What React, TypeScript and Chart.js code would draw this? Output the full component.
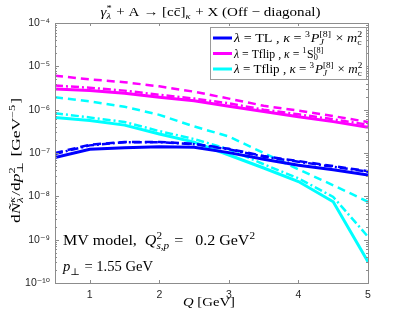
import React, { useEffect, useRef } from 'react';
import Chart from 'chart.js/auto';

const Q = [0.5, 1, 1.5, 2, 2.5, 3, 3.5, 4, 4.5, 5];
const tlSolid = [7.9e-8, 1.22e-7, 1.33e-7, 1.4e-7, 1.35e-7, 1.02e-7, 7.2e-8, 5.2e-8, 4.1e-8, 3.1e-8];
const tlDashed = [1.0e-7, 1.55e-7, 1.8e-7, 1.8e-7, 1.62e-7, 1.25e-7, 8.5e-8, 6.5e-8, 5.0e-8, 3.8e-8];
const tlDashDot = [9.5e-8, 1.5e-7, 1.78e-7, 1.78e-7, 1.6e-7, 1.22e-7, 8.2e-8, 6.3e-8, 4.8e-8, 3.7e-8];
const s0Solid = [3.0e-6, 2.77e-6, 2.4e-6, 1.94e-6, 1.6e-6, 1.2e-6, 9.1e-7, 6.9e-7, 5.3e-7, 3.9e-7];
const s0Dashed = [6.1e-6, 5.0e-6, 4.3e-6, 3.45e-6, 2.6e-6, 1.8e-6, 1.23e-6, 9.5e-7, 7.1e-7, 5.2e-7];
const s0DashDot = [3.6e-6, 3.2e-6, 2.75e-6, 2.2e-6, 1.8e-6, 1.4e-6, 1.0e-6, 7.8e-7, 6.0e-7, 4.5e-7];
const pjSolid = [6.6e-7, 5.6e-7, 4.4e-7, 2.75e-7, 1.78e-7, 9e-8, 4.5e-8, 2.2e-8, 7.5e-9, 3.1e-10];
const pjDashed = [1.94e-6, 1.55e-6, 1.17e-6, 7.6e-7, 4.1e-7, 2.4e-7, 1.0e-7, 4.2e-8, 1.8e-8, 7.5e-9];
const pjDashDot = [8.3e-7, 6.6e-7, 5.2e-7, 3.2e-7, 2.1e-7, 1.22e-7, 5.5e-8, 2.6e-8, 9.7e-9, 1.17e-9];
const xTicks = [1, 2, 3, 4, 5];
const yExponents = [-10, -9, -8, -7, -6, -5, -4];

const BLUE = '#0000ff';
const MAGENTA = '#ff00ff';
const CYAN = '#00ffff';
const SERIF = '"Liberation Serif", "DejaVu Serif", serif';
const SANS = '"Liberation Sans", "DejaVu Sans", sans-serif';

type Part = { t?: string; it?: boolean; sup?: string; sub?: string; supIt?: boolean; subIt?: boolean };

const fontStr = (size: number, it: boolean | undefined, fam: string) => `${it ? 'italic ' : ''}${size}px ${fam}`;

function measureParts(ctx: CanvasRenderingContext2D, parts: Part[], size: number, fam: string) {
  let w = 0;
  for (const p of parts) {
    if (p.t !== undefined) {
      ctx.font = fontStr(size, p.it, fam);
      w += ctx.measureText(p.t).width;
    } else {
      const s = size * 0.7;
      let a = 0, b = 0;
      if (p.sup) { ctx.font = fontStr(s, p.supIt, fam); a = ctx.measureText(p.sup).width; }
      if (p.sub) { ctx.font = fontStr(s, p.subIt, fam); b = ctx.measureText(p.sub).width; }
      w += Math.max(a, b) + size * 0.06;
    }
  }
  return w;
}

function drawParts(
  ctx: CanvasRenderingContext2D, parts: Part[], x: number, y: number, size: number, fam: string,
  align: 'left' | 'center' | 'right' = 'left', targetW?: number,
) {
  const w = measureParts(ctx, parts, size, fam);
  const W = targetW ?? w;
  const sx = W / w;
  const start = align === 'center' ? x - W / 2 : align === 'right' ? x - W : x;
  ctx.save();
  ctx.translate(start, y);
  ctx.scale(sx, 1);
  ctx.textAlign = 'left';
  ctx.textBaseline = 'alphabetic';
  let cx = 0;
  for (const p of parts) {
    if (p.t !== undefined) {
      ctx.font = fontStr(size, p.it, fam);
      ctx.fillText(p.t, cx, 0);
      cx += ctx.measureText(p.t).width;
    } else {
      const s = size * 0.7;
      let a = 0, b = 0;
      if (p.sup) {
        ctx.font = fontStr(s, p.supIt, fam);
        ctx.fillText(p.sup, cx, -size * 0.42);
        a = ctx.measureText(p.sup).width;
      }
      if (p.sub) {
        ctx.font = fontStr(s, p.subIt, fam);
        ctx.fillText(p.sub, cx, size * 0.25);
        b = ctx.measureText(p.sub).width;
      }
      cx += Math.max(a, b) + size * 0.06;
    }
  }
  ctx.restore();
}

const titleParts: Part[] = [
  { t: 'γ', it: true }, { sup: '*', sub: 'λ', subIt: true },
  { t: ' + A → [cc̄]' }, { sub: 'κ', subIt: true }, { t: ' + X (Off − diagonal)' },
];
const legendRows: { color: string; parts: Part[]; w: number }[] = [
  { color: BLUE, w: 129, parts: [{ t: 'λ', it: true }, { t: ' = TL , ' }, { t: 'κ', it: true }, { t: ' = ' }, { sup: '3' }, { t: 'P', it: true }, { sup: '[8]', sub: 'J', subIt: true }, { t: ' × ' }, { t: 'm', it: true }, { sup: '2', sub: 'c' }] },
  { color: MAGENTA, w: 90, parts: [{ t: 'λ', it: true }, { t: ' = Tflip , ' }, { t: 'κ', it: true }, { t: ' = ' }, { sup: '1' }, { t: 'S' }, { sup: '[8]', sub: '0' }] },
  { color: CYAN, w: 129, parts: [{ t: 'λ', it: true }, { t: ' = Tflip , ' }, { t: 'κ', it: true }, { t: ' = ' }, { sup: '3' }, { t: 'P', it: true }, { sup: '[8]', sub: 'J', subIt: true }, { t: ' × ' }, { t: 'm', it: true }, { sup: '2', sub: 'c' }] },
];
const yTitleParts: Part[] = [
  { t: 'd' }, { t: 'Ñ', it: true }, { sup: 'κ', sub: 'λ', supIt: true, subIt: true }, { t: '/d' }, { t: 'p', it: true }, { sup: '2', sub: '⊥' }, { t: ' [GeV' }, { sup: '−5' }, { t: ']' },
];
const xTitleParts: Part[] = [{ t: 'Q', it: true }, { t: ' [GeV]' }];
const note1Parts: Part[] = [{ t: 'MV model,  ' }, { t: 'Q', it: true }, { sup: '2', sub: 's,p', subIt: true }, { t: ' =   0.2 GeV' }, { sup: '2' }];
const note2Parts: Part[] = [{ t: 'p', it: true }, { sub: '⊥' }, { t: ' = 1.55 GeV' }];

const SUP: Record<string, string> = { '-': '⁻', '0': '⁰', '1': '¹', '2': '²', '3': '³', '4': '⁴', '5': '⁵', '6': '⁶', '7': '⁷', '8': '⁸', '9': '⁹' };
const supStr = (s: string) => s.split('').map((c) => SUP[c] ?? c).join('');

const decorPlugin = {
  id: 'decor',
  afterDraw(chart: any) {
    const ctx: CanvasRenderingContext2D = chart.ctx;
    const { left, right, top, bottom } = chart.chartArea;
    const xs = chart.scales.x;
    const ys = chart.scales.y;
    ctx.save();
    ctx.strokeStyle = '#8c8c8c';
    ctx.lineWidth = 1;
    ctx.strokeRect(Math.round(left) + 0.5, Math.round(top) + 0.5, Math.round(right - left), Math.round(bottom - top));
    ctx.beginPath();
    for (const v of xTicks) {
      const px = Math.round(xs.getPixelForValue(v)) + 0.5;
      ctx.moveTo(px, bottom); ctx.lineTo(px, bottom - 3);
      ctx.moveTo(px, top); ctx.lineTo(px, top + 3);
    }
    for (const e of yExponents) {
      const py = Math.round(ys.getPixelForValue(Math.pow(10, e))) + 0.5;
      ctx.moveTo(left, py); ctx.lineTo(left + 4, py);
      ctx.moveTo(right, py); ctx.lineTo(right - 4, py);
      if (e < -4) {
        for (let m = 2; m <= 9; m++) {
          const pm = Math.round(ys.getPixelForValue(m * Math.pow(10, e))) + 0.5;
          ctx.moveTo(left, pm); ctx.lineTo(left + 2, pm);
          ctx.moveTo(right, pm); ctx.lineTo(right - 2, pm);
        }
      }
    }
    ctx.stroke();

    ctx.fillStyle = '#000';
    drawParts(ctx, titleParts, 210.5, 16, 13, SERIF, 'center', 220);
    drawParts(ctx, xTitleParts, 209, 306, 13, SERIF, 'center', 52);
    ctx.save();
    ctx.translate(20, 160.5);
    ctx.rotate(-Math.PI / 2);
    drawParts(ctx, yTitleParts, 0, 0, 12.5, SERIF, 'center', 125);
    ctx.restore();
    drawParts(ctx, note1Parts, 63, 245, 14, SERIF, 'left', 193);
    drawParts(ctx, note2Parts, 63, 271, 14, SERIF, 'left', 90);

    const lx = 210.5, ly = 27.5, lw = 156, lh = 52;
    ctx.fillStyle = '#fff';
    ctx.fillRect(lx, ly, lw, lh);
    ctx.strokeStyle = '#9a9a9a';
    ctx.lineWidth = 1;
    ctx.strokeRect(lx, ly, lw, lh);
    legendRows.forEach((r, i) => {
      const cy = 38 + i * 15.5;
      ctx.strokeStyle = r.color;
      ctx.lineWidth = 3;
      ctx.setLineDash([]);
      ctx.beginPath();
      ctx.moveTo(213, cy); ctx.lineTo(232, cy);
      ctx.stroke();
      ctx.fillStyle = '#000';
      drawParts(ctx, r.parts, 234, cy + 4, 11.5, SERIF, 'left', r.w);
    });
    ctx.restore();
  },
};

function series(values: number[], color: string, dash: number[], width: number) {
  return {
    data: Q.map((q, i) => ({ x: q, y: values[i] })),
    borderColor: color,
    backgroundColor: color,
    borderWidth: width,
    borderDash: dash,
    pointRadius: 0,
    fill: false,
    tension: 0,
  };
}

export default function App() {
  const ref = useRef<HTMLCanvasElement>(null);
  useEffect(() => {
    if (!ref.current) return;
    const DASH = [8, 5];
    const DASHDOT = [8, 3, 2, 3];
    const chart = new Chart(ref.current, {
      type: 'line',
      data: {
        datasets: [
          series(tlDashed, BLUE, DASH, 2.5),
          series(tlDashDot, BLUE, DASHDOT, 2.5),
          series(tlSolid, BLUE, [], 3),
          series(s0Dashed, MAGENTA, DASH, 2.5),
          series(s0DashDot, MAGENTA, DASHDOT, 2.5),
          series(s0Solid, MAGENTA, [], 3),
          series(pjDashed, CYAN, DASH, 2.5),
          series(pjDashDot, CYAN, DASHDOT, 2.5),
          series(pjSolid, CYAN, [], 3),
        ] as any,
      },
      options: {
        animation: false,
        responsive: false,
        devicePixelRatio: 1,
        layout: { padding: { top: 23, right: 39, left: 0, bottom: 0 } },
        plugins: { legend: { display: false }, title: { display: false }, tooltip: { enabled: false } },
        scales: {
          x: {
            type: 'linear',
            min: 0.5,
            max: 5,
            afterBuildTicks: (s: any) => { s.ticks = xTicks.map((v) => ({ value: v })); },
            afterFit: (s: any) => { s.height = 37; },
            ticks: { font: { family: SANS, size: 10.5 }, color: '#262626', padding: 6, maxRotation: 0, callback: (v: any) => String(v) },
            grid: { display: false, drawTicks: false },
            border: { display: false },
          },
          y: {
            type: 'logarithmic',
            min: 1e-10,
            max: 1e-4,
            afterBuildTicks: (s: any) => { s.ticks = yExponents.map((e) => ({ value: Math.pow(10, e), major: true })); },
            afterFit: (s: any) => { s.width = 55; },
            ticks: {
              font: { family: SANS, size: 10.5 },
              color: '#262626',
              padding: 5,
              autoSkip: false,
              callback: (v: any) => '10' + supStr(String(Math.round(Math.log10(Number(v))))),
            },
            grid: { display: false, drawTicks: false },
            border: { display: false },
          },
        },
      } as any,
      plugins: [decorPlugin],
    });
    return () => chart.destroy();
  }, []);
  return (
    <div style={{ position: 'fixed', left: 0, top: 0, width: 407, height: 320, background: '#fff' }}>
      <canvas ref={ref} width={407} height={320} style={{ width: 407, height: 320, display: 'block' }} />
    </div>
  );
}
